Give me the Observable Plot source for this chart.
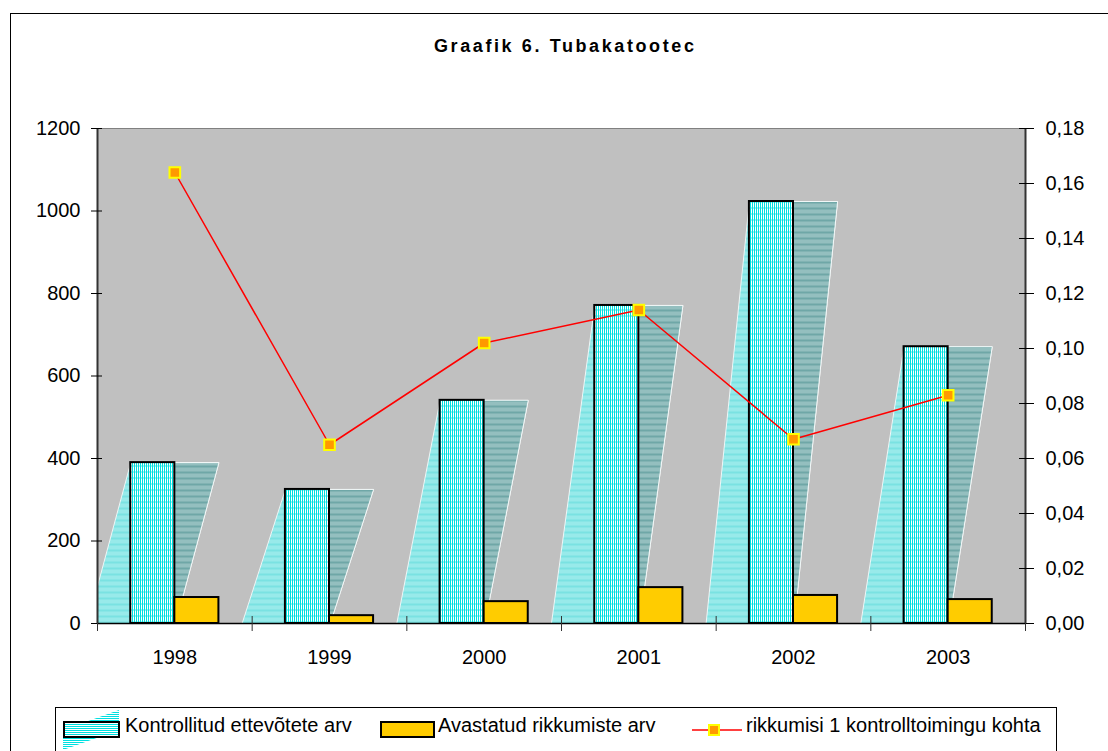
<!DOCTYPE html>
<html><head><meta charset="utf-8">
<script src="https://cdn.jsdelivr.net/npm/d3@7"></script>
<script src="https://cdn.jsdelivr.net/npm/@observablehq/plot@0.6"></script>
<style>
html,body{margin:0;padding:0;overflow:hidden;background:#fff;width:1108px;height:751px;}
#wrap{position:relative;width:1108px;height:751px;font-family:"Liberation Sans",Arial,sans-serif;color:#000;}
#title{position:absolute;left:434px;top:36px;font-weight:bold;font-size:18px;letter-spacing:2.6px;white-space:nowrap;}
#chart{position:absolute;left:0;top:90px;}
#legend{position:absolute;left:55px;top:707px;width:1000px;height:70px;border:1px solid #000;background:#fff;}
.lt{position:absolute;top:6px;font-size:20px;white-space:nowrap;}
.sw{position:absolute;}
#frame{position:absolute;left:10px;top:13px;width:1200px;height:900px;border:1px solid #000;pointer-events:none;z-index:10;}
</style></head>
<body>
<div id="wrap">
  <div id="title">Graafik 6. Tubakatootec</div>
  <div id="chart"></div>
  <div id="legend"></div>
  <div id="frame"></div>
</div>
<script>
// ---- data ----
const years = [1998, 1999, 2000, 2001, 2002, 2003];
const kontrollitud = [390, 325, 541, 771, 1023, 671];
const avastatud = [63, 19, 53, 87, 68, 58];
const rikkumisi = [0.164, 0.065, 0.102, 0.114, 0.067, 0.083];
const leftTicks = [0, 200, 400, 600, 800, 1000, 1200];
const rightTicks = [0, 0.02, 0.04, 0.06, 0.08, 0.10, 0.12, 0.14, 0.16, 0.18];
const rightLabels = ["0,00", "0,02", "0,04", "0,06", "0,08", "0,10", "0,12", "0,14", "0,16", "0,18"];
const seriesNames = ["Kontrollitud ettevõtete arv", "Avastatud rikkumiste arv", "rikkumisi 1 kontrolltoimingu kohta"];
const titleText = "Graafik 6. Tubakatootec";

// ---- derived ----
const YMAX = 1200, RMAX = 0.18, K = YMAX / RMAX;
const W = 0.285, SKEW = 0.28;
const rows = years.map((y, i) => ({year: y, k: kontrollitud[i], a: avastatud[i], r: rikkumisi[i] * K}));
const back = rows.flatMap(d => [
  {year: d.year, x: d.year - W - SKEW, y: 0},
  {year: d.year, x: d.year - W, y: d.k},
  {year: d.year, x: d.year + W, y: d.k},
  {year: d.year, x: d.year + W - SKEW, y: 0}
]);
const side = rows.flatMap(d => [
  {year: d.year, x: d.year, y: d.k},
  {year: d.year, x: d.year + W, y: d.k},
  {year: d.year, x: d.year + W - SKEW, y: 0},
  {year: d.year, x: d.year, y: 0}
]);
const bounds = [years[0] - 0.5, ...years.map(y => y + 0.5)];

document.getElementById("title").textContent = titleText;

const plot = Plot.plot({
  width: 1108, height: 610,
  marginTop: 38, marginBottom: 77, marginLeft: 97, marginRight: 83,
  style: {fontFamily: "Liberation Sans, Arial, sans-serif", fontSize: "20px", background: "transparent", color: "#000"},
  x: {type: "linear", domain: [bounds[0], bounds[bounds.length - 1]]},
  y: {domain: [0, YMAX]},
  marks: [
    Plot.frame({fill: "#C0C0C0", stroke: "#808080"}),
    Plot.line(back, {x: "x", y: "y", z: "year", fill: "url(#hl)", stroke: "#ffffff", strokeWidth: 1, strokeOpacity: 0.8, clip: true}),
    Plot.line(side, {x: "x", y: "y", z: "year", fill: "url(#hd)", stroke: "#ffffff", strokeWidth: 1, strokeOpacity: 0.8, clip: true}),
    Plot.rect(rows, {x1: d => d.year - W, x2: d => d.year, y1: 0, y2: "k", fill: "url(#hf)", stroke: "#000", strokeWidth: 2}),
    Plot.rect(rows, {x1: d => d.year, x2: d => d.year + W, y1: 0, y2: "a", fill: "#FFCC00", stroke: "#000", strokeWidth: 2}),
    Plot.ruleY([0], {stroke: "#000", strokeWidth: 1.5}),
    Plot.ruleX([bounds[0]], {stroke: "#333", strokeWidth: 2}),
    Plot.ruleX([bounds[bounds.length - 1]], {stroke: "#333", strokeWidth: 2}),
    Plot.line(rows, {x: "year", y: "r", stroke: "#FF0000", strokeWidth: 1.5}),
    Plot.dot(rows, {x: "year", y: "r", symbol: "square", r: 6, fill: "#FF9900", stroke: "#FFFF00", strokeWidth: 2}),
    Plot.axisY({ticks: leftTicks, tickSize: 6, tickPadding: 11, tickFormat: d => String(d), label: null, stroke: "#000"}),
    Plot.axisY({ticks: leftTicks, tickSize: -5, tickFormat: () => "", label: null, stroke: "#000"}),
    Plot.axisY({anchor: "right", ticks: rightTicks.map(t => t * K), tickSize: 8, tickPadding: 12,
      tickFormat: d => rightLabels[Math.round(d / K / 0.02)], label: null, stroke: "#000"}),
    Plot.axisY({anchor: "right", ticks: rightTicks.map(t => t * K), tickSize: -7, tickFormat: () => "", label: null, stroke: "#000"}),
    Plot.axisX({ticks: bounds, tickSize: 8, tickFormat: () => "", label: null, stroke: "#333"}),
    Plot.axisX({ticks: bounds, tickSize: -7, tickFormat: () => "", label: null, stroke: "#333"}),
    Plot.axisX({ticks: years, tickSize: 0, tickPadding: 26, tickFormat: d => String(d), label: null})
  ]
});

function addPatterns(svgSel, prefix) {
  const defs = svgSel.insert("defs", ":first-child");
  const mk = (id, bg, stripe, wave) => {
    const p = defs.append("pattern").attr("id", id).attr("patternUnits", "userSpaceOnUse")
      .attr("width", 2).attr("height", 6);
    p.append("rect").attr("width", 2).attr("height", 6).attr("fill", bg);
    p.append("rect").attr("width", 1).attr("height", 6).attr("fill", stripe);
    p.append("rect").attr("x", 1).attr("y", 3).attr("width", 1).attr("height", 2).attr("fill", wave);
  };
  mk(prefix + "hl", "#FFFFFF", "#30D4D4", "#C4F0F0");
  mk(prefix + "hf", "#FFFFFF", "#00E0E0", "#A8EEEE");
  mk(prefix + "hd", "#FFFFFF", "#2A7E7E", "#B4D0D0");
  const h = defs.append("pattern").attr("id", prefix + "hh").attr("patternUnits", "userSpaceOnUse")
    .attr("width", 4).attr("height", 2);
  h.append("rect").attr("width", 4).attr("height", 2).attr("fill", "#FFFFFF");
  h.append("rect").attr("width", 4).attr("height", 1).attr("fill", "#00E0E0");
}
addPatterns(d3.select(plot), "");
document.getElementById("chart").appendChild(plot);

// ---- legend ----
const leg = d3.select("#legend");
const s1 = leg.append("svg").attr("class", "sw").style("left", "4px").style("top", "0px")
  .attr("width", 64).attr("height", 44);
addPatterns(s1, "L");
s1.append("polygon").attr("points", "3,42 3,22 59,2 59,22").attr("fill", "url(#Lhh)");
s1.append("rect").attr("x", 4).attr("y", 14).attr("width", 55).attr("height", 15)
  .attr("fill", "url(#Lhh)").attr("stroke", "#000").attr("stroke-width", 2);
leg.append("div").attr("class", "lt").style("left", "69px").text(seriesNames[0]);

const s2 = leg.append("svg").attr("class", "sw").style("left", "323px").style("top", "0px")
  .attr("width", 58).attr("height", 44);
s2.append("rect").attr("x", 2).attr("y", 14).attr("width", 53).attr("height", 15)
  .attr("fill", "#FFCC00").attr("stroke", "#000").attr("stroke-width", 2);
leg.append("div").attr("class", "lt").style("left", "382px").text(seriesNames[1]);

const s3 = leg.append("svg").attr("class", "sw").style("left", "634px").style("top", "0px")
  .attr("width", 56).attr("height", 44);
s3.append("line").attr("x1", 2).attr("x2", 52).attr("y1", 22).attr("y2", 22)
  .attr("stroke", "#FF0000").attr("stroke-width", 1.5);
s3.append("rect").attr("x", 19).attr("y", 17).attr("width", 10).attr("height", 10)
  .attr("fill", "#FF9900").attr("stroke", "#FFFF00").attr("stroke-width", 2);
leg.append("div").attr("class", "lt").style("left", "690px").text(seriesNames[2]);
</script>
</body></html>
